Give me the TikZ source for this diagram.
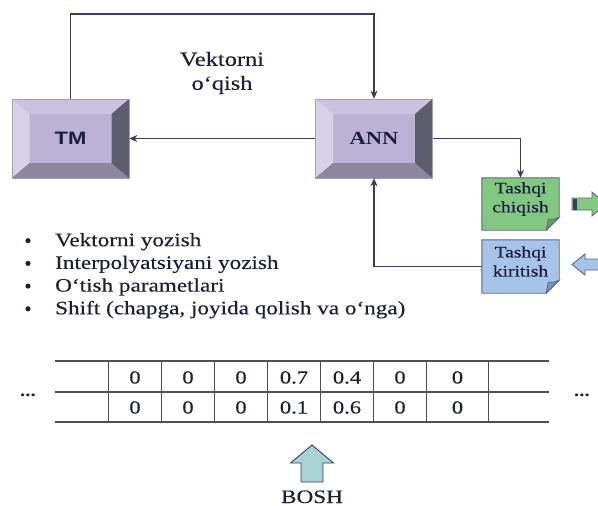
\documentclass[tikz,border=0pt]{standalone}
\usepackage{fontspec}
\setmainfont{Liberation Serif}[FakeStretch=1.22,UprightFeatures={FakeBold=0.35}]
\setsansfont{Liberation Sans}[FakeStretch=1.22]
\usetikzlibrary{arrows.meta,calc,backgrounds}

\definecolor{ink}{HTML}{1E1E3C}
\definecolor{wire}{HTML}{3A3A68}
\definecolor{bevface}{HTML}{BCB2D6}
\definecolor{bevtop}{HTML}{CAC2DF}
\definecolor{bevleft}{HTML}{D6D1E9}
\definecolor{bevbot}{HTML}{8C869F}
\definecolor{bevright}{HTML}{5D5D6E}
\definecolor{bevedge}{HTML}{A39DB8}
\definecolor{noteline}{HTML}{5E6478}
\definecolor{greenfill}{HTML}{82C883}
\definecolor{greenfold}{HTML}{5F9E63}
\definecolor{bluefill}{HTML}{A6C4EA}
\definecolor{bluefold}{HTML}{7D93B8}
\definecolor{headfill}{HTML}{A9D3D3}
\definecolor{gridline}{HTML}{505050}

\begin{document}
\begin{tikzpicture}[x=1pt,y=-1pt,
  conn/.style={draw=wire,line width=1.8pt,-{Stealth[length=8pt,width=7pt,inset=2.5pt]}},
  bevelbox/.style={minimum width=117pt,minimum height=79pt,inner sep=0pt,
    fill=bevface,draw=bevedge,line width=0.5pt,text=ink,
    path picture={
      \coordinate (q1) at (path picture bounding box.north west);
      \coordinate (q2) at (path picture bounding box.north east);
      \coordinate (q3) at (path picture bounding box.south east);
      \coordinate (q4) at (path picture bounding box.south west);
      \coordinate (i1) at ($(q1)+(17.5pt,-15pt)$);
      \coordinate (i2) at ($(q2)+(-17.5pt,-15pt)$);
      \coordinate (i3) at ($(q3)+(-17.5pt,15pt)$);
      \coordinate (i4) at ($(q4)+(17.5pt,15pt)$);
      \fill[bevtop] (q1) -- (q2) -- (i2) -- (i1) -- cycle;
      \fill[bevleft] (q1) -- (i1) -- (i4) -- (q4) -- cycle;
      \fill[bevbot] (q4) -- (i4) -- (i3) -- (q3) -- cycle;
      \fill[bevright] (q2) -- (q3) -- (i3) -- (i2) -- cycle;
    }},
  notebox/.style={minimum width=77pt,minimum height=52pt,inner sep=0pt},
  notetext/.style={align=center,text=ink,font=\fontsize{16}{19}\selectfont},
  plain/.style={text=ink,inner sep=0pt,font=\fontsize{19}{20}\selectfont},
  cell/.style={text=ink,font=\fontsize{18.5}{20}\selectfont,anchor=base},
  blockarrow/.style={draw=noteline,line width=0.9pt,line join=miter}
]
\useasboundingbox (0,0) rectangle (598,506);

% the two bevelled processing blocks
\node[bevelbox,font=\sffamily\bfseries\fontsize{18}{20}\selectfont] (tm) at (70.5,138.5) {TM};
\node[bevelbox,font=\bfseries\fontsize{18.5}{20}\selectfont] (ann) at (374,138.5) {ANN};

% external output / input notes
\node[notebox] (chiq) at (520.5,204) {};
\node[notebox,minimum height=53pt] (kir) at (520.5,266.5) {};
\node[notetext] (chiqtxt) at (520.5,199) {Tashqi\\chiqish};
\node[notetext] (kirtxt) at (520.5,261.5) {Tashqi\\kiritish};

\begin{scope}[on background layer]
  \filldraw[fill=greenfill,draw=noteline,line width=0.9pt]
    (chiq.north west) -- (chiq.north east) -- ($(chiq.south east)+(0,13pt)$)
    -- ($(chiq.south east)+(-13pt,0)$) -- (chiq.south west) -- cycle;
  \filldraw[fill=bluefill,draw=noteline,line width=0.9pt]
    (kir.north west) -- (kir.north east) -- ($(kir.south east)+(0,13pt)$)
    -- ($(kir.south east)+(-13pt,0)$) -- (kir.south west) -- cycle;
\end{scope}
% folded corners
\filldraw[fill=greenfold,draw=noteline,line width=0.7pt]
  ($(chiq.south east)+(0,13pt)$) .. controls ($(chiq.south east)+(-5pt,11pt)$) ..
  ($(chiq.south east)+(-11pt,11pt)$) .. controls ($(chiq.south east)+(-12pt,5pt)$) ..
  ($(chiq.south east)+(-13pt,0)$) -- cycle;
\filldraw[fill=bluefold,draw=noteline,line width=0.7pt]
  ($(kir.south east)+(0,13pt)$) .. controls ($(kir.south east)+(-5pt,11pt)$) ..
  ($(kir.south east)+(-11pt,11pt)$) .. controls ($(kir.south east)+(-12pt,5pt)$) ..
  ($(kir.south east)+(-13pt,0)$) -- cycle;

% connectors
\coordinate (topmid) at (222,14);
\draw[conn] (tm.north) |- (topmid) -| (ann.north);
\draw[conn] (ann.west) -- (tm.east);
\draw[conn] (ann.east) -| (chiq.north);
\draw[conn] (kir.west) -| (ann.south);

\node[align=center,text=ink,font=\fontsize{20}{24}\selectfont] (readlbl) at (222,73) {Vektorni\\o‘qish};

% block arrows at the right edge
\filldraw[blockarrow,fill=greenfill]
  (572,198) -- (592,198) -- (592,192) -- (606,204) -- (592,216) -- (592,210) -- (572,210) -- cycle;
\fill[wire] (572.5,198.5) rectangle (576.5,209.5);
\filldraw[blockarrow,fill=bluefill]
  (572,264.5) -- (585,254) -- (585,259) -- (606,259) -- (606,270) -- (585,270) -- (585,275) -- cycle;

% list of operations
\foreach \t [count=\k] in {Vektorni yozish,Interpolyatsiyani yozish,O‘tish parametlari,{Shift (chapga, joyida qolish va o‘nga)}}{
  \fill[ink] (28,{218+22.7*\k}) circle (2.6pt) coordinate (dot\k);
  \node[plain,anchor=base west] (item\k) at (55,{223.5+22.7*\k}) {\t};
}

% tape
\foreach \y in {361,392,422}
  \draw[gridline,line width=1.4pt] (55,\y) -- (549,\y);
\foreach \x in {108.5,161.5,214.5,267.5,320.5,373.5,426.5,488.5}
  \draw[gridline,line width=1.2pt] (\x,361) -- (\x,422);
\foreach \v [count=\k] in {0,0,0,0.7,0.4,0,0}{
  \pgfmathsetmacro{\cx}{\k<7 ? 82+53*\k : 457.5}
  \node[cell] (ra\k) at (\cx,383.5) {\v};
}
\foreach \v [count=\k] in {0,0,0,0.1,0.6,0,0}{
  \pgfmathsetmacro{\cx}{\k<7 ? 82+53*\k : 457.5}
  \node[cell] (rb\k) at (\cx,413.5) {\v};
}
\node[text=ink,font=\bfseries\fontsize{17}{20}\selectfont] (ldots) at (28,395) {...};
\node[text=ink,font=\bfseries\fontsize{17}{20}\selectfont] (rdots) at (582,395) {...};

% head pointer
\filldraw[blockarrow,fill=headfill,draw=wire]
  (312,445) -- (333.5,463) -- (323,463) -- (323,482) -- (301,482) -- (301,463) -- (290.5,463) -- cycle;
\node[text=ink,inner sep=0pt,font=\fontsize{19}{20}\selectfont,anchor=base] (bosh) at (312,503) {BOSH};
\end{tikzpicture}
\end{document}
